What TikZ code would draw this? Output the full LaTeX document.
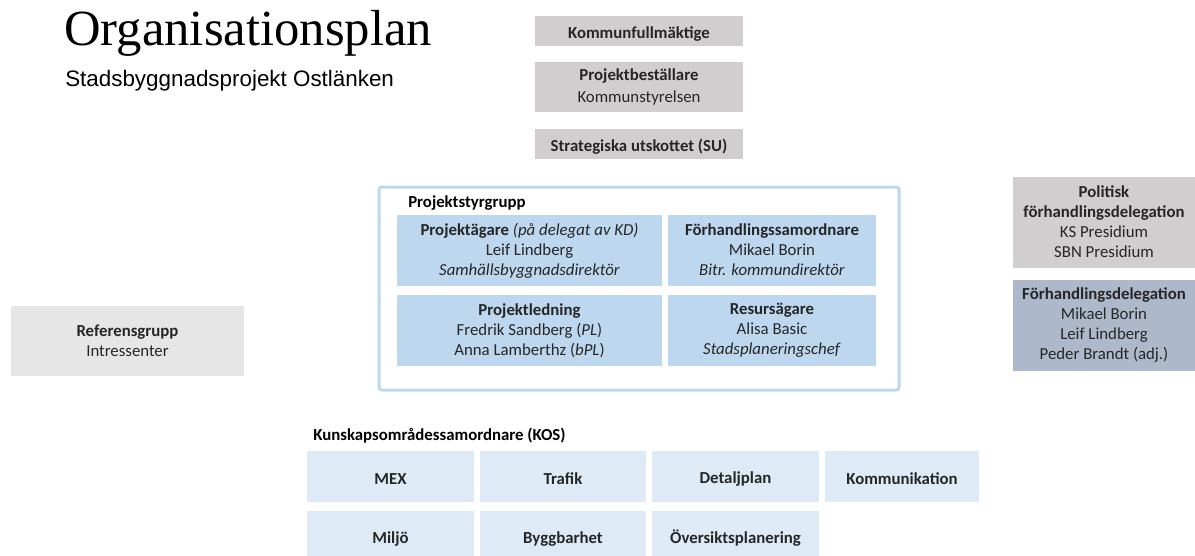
\documentclass[tikz,border=0pt]{standalone}
\usepackage{fontspec}
\setmainfont{Carlito}
\newfontfamily\titlefont{Liberation Serif}
\newfontfamily\subfont{Liberation Sans}
\usetikzlibrary{positioning}

\definecolor{grayfill}{HTML}{D0CECE}
\definecolor{lightgrayfill}{HTML}{E7E6E6}
\definecolor{bluefill}{HTML}{BDD7EE}
\definecolor{paleblue}{HTML}{DEEBF7}
\definecolor{slatefill}{HTML}{ADB9CA}
\definecolor{textgray}{HTML}{262626}
\newcommand{\px}{0.75pt}

\begin{document}
\begin{tikzpicture}[x=0.75pt,y=-0.75pt]
\tikzset{
    box/.style={rectangle, inner sep=0pt, align=center, text=textgray, font=\fontsize{12.6}{15}\selectfont,
        execute at begin node={\rule{0pt}{13pt}}, execute at end node={\rule[-1pt]{0pt}{0pt}}},
    topbox/.style={box, fill=grayfill, minimum width=208*\px},
    groupbox/.style={box, fill=bluefill, minimum height=71*\px},
    sidebox/.style={box, minimum width=182*\px, minimum height=91*\px},
    kosbox/.style={box, fill=paleblue, minimum height=51*\px, font=\fontsize{12.6}{15}\selectfont\bfseries},
    heading/.style={anchor=west, inner sep=0pt, text=black, font=\fontsize{12.6}{15}\selectfont\bfseries}
}
\useasboundingbox (0,0) rectangle (1195,556);

% titel
\node[anchor=base west, inner sep=0pt, font=\titlefont\fontsize{38}{40}\selectfont] (titel) at (64,46) {Organisationsplan};
\node[anchor=base west, inner sep=0pt, font=\subfont\fontsize{16.8}{19}\selectfont] (undertitel) at (65,87) {Stadsbyggnadsprojekt Ostlänken};

% politisk ledning
\node[topbox, minimum height=30*\px] (kf) at (639,31) {\textbf{Kommunfullmäktige}};
\node[topbox, minimum height=50*\px, font=\fontsize{12.6}{16.5}\selectfont] (bestallare) at (639,87) {\textbf{Projektbeställare}\\Kommunstyrelsen};
\node[topbox, minimum height=30*\px] (su) at (639,144) {\textbf{Strategiska utskottet (SU)}};

% projektstyrgrupp
\node[rectangle, draw=bluefill, line width=3*\px, rounded corners=2pt, minimum width=520*\px, minimum height=203*\px] (styrgrupp) at (639,288.5) {};
\node[heading] (styrlabel) at (408,203) {Projektstyrgrupp};
\node[groupbox, minimum width=265*\px] (agare) at (529.5,250.5) {\textbf{Projektägare} \textit{(på delegat av KD)}\\Leif Lindberg\\\textit{Samhällsbyggnadsdirektör}};
\node[groupbox, minimum width=208*\px] (samordnare) at (772,250.5) {\textbf{Förhandlingssamordnare}\\Mikael Borin\\\textit{Bitr. kommundirektör}};
\node[groupbox, minimum width=265*\px] (ledning) at (529.5,330.5) {\textbf{Projektledning}\\Fredrik Sandberg (\textit{PL})\\Anna Lamberthz (\textit{bPL})};
\node[groupbox, minimum width=208*\px] (resurs) at (772,330.5) {\textbf{Resursägare}\\Alisa Basic\\\textit{Stadsplaneringschef}};

% delegationer
\node[sidebox, fill=grayfill] (politisk) at (1104,222.5) {\textbf{Politisk}\\\textbf{förhandlingsdelegation}\\KS Presidium\\SBN Presidium};
\node[sidebox, fill=slatefill] (delegation) at (1104,325.5) {\textbf{Förhandlingsdelegation}\\Mikael Borin\\Leif Lindberg\\Peder Brandt (adj.)};

% referensgrupp
\node[box, fill=lightgrayfill, minimum width=233*\px, minimum height=70*\px] (referens) at (127.5,341) {\textbf{Referensgrupp}\\Intressenter};

% kunskapsområden
\node[heading] (koslabel) at (313,436) {Kunskapsområdessamordnare (KOS)};
\node[kosbox, minimum width=167*\px] (mex) at (390.5,476.5) {MEX};
\node[kosbox, minimum width=166*\px] (trafik) at (563,476.5) {Trafik};
\node[kosbox, minimum width=167*\px] (detaljplan) at (735.5,476.5) {Detaljplan};
\node[kosbox, minimum width=154*\px] (kommunikation) at (902,476.5) {Kommunikation};
\node[kosbox, minimum width=167*\px] (miljo) at (390.5,536.5) {Miljö};
\node[kosbox, minimum width=166*\px] (bygg) at (563,536.5) {Byggbarhet};
\node[kosbox, minimum width=167*\px] (oversikt) at (735.5,536.5) {Översiktsplanering};
\end{tikzpicture}
\end{document}
